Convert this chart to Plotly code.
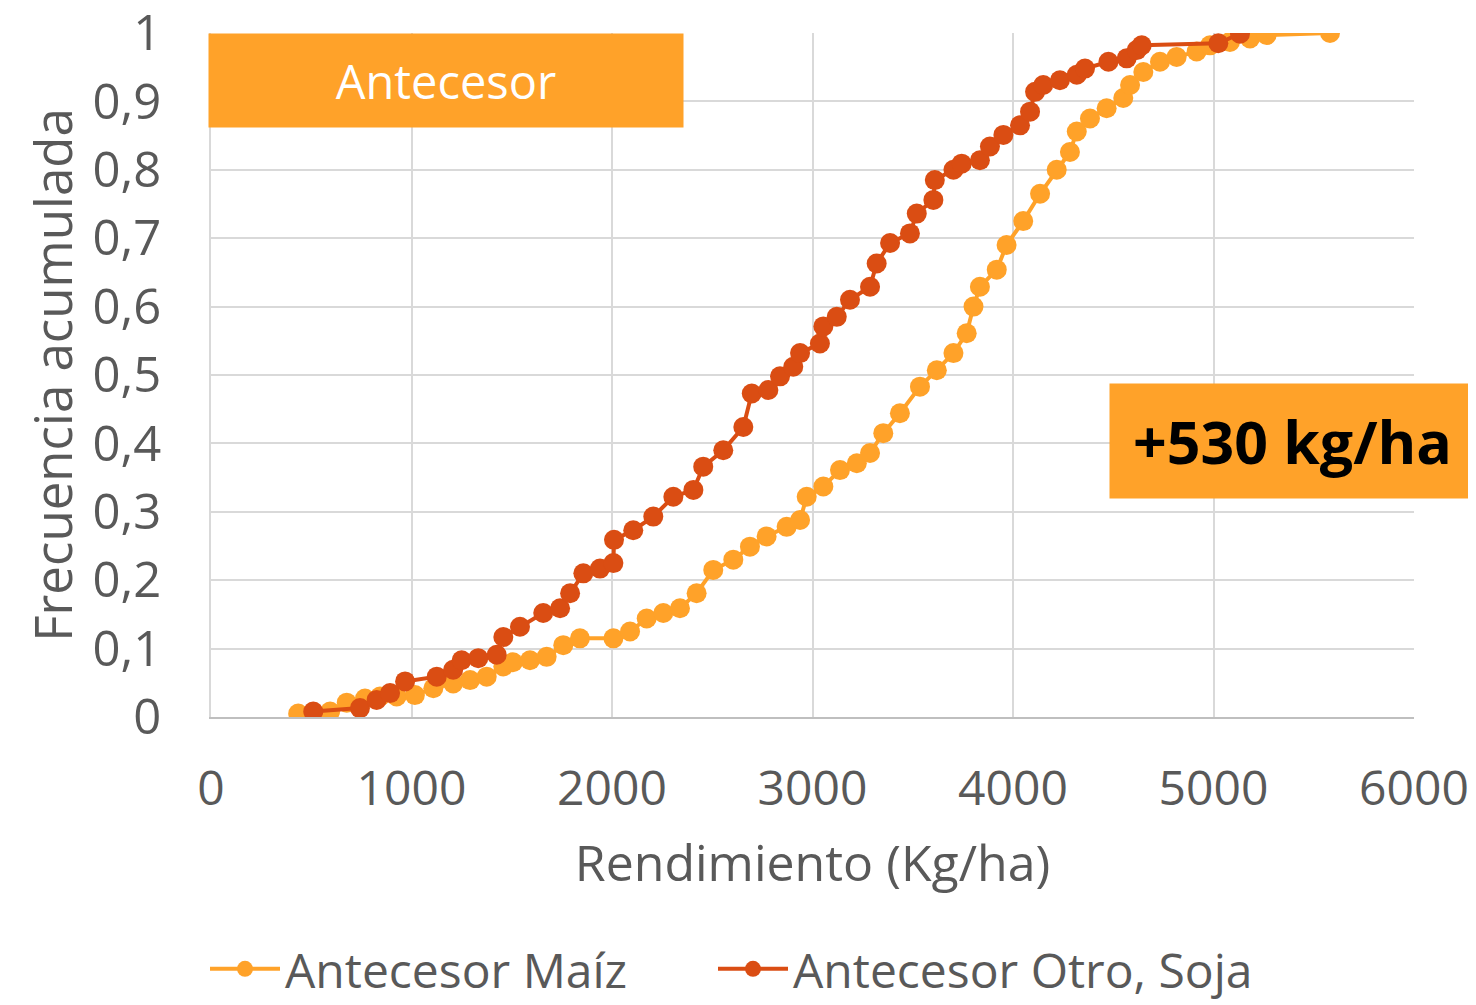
import plotly.graph_objects as go

# Antecesor Maíz (rendimiento kg/ha, frecuencia acumulada)
maiz_x = [435, 594, 677, 768, 843, 926, 1017, 1109, 1208, 1292, 1375, 1458, 1506, 1591, 1674, 1757,
          1840, 2007, 2090, 2173, 2256, 2339, 2422, 2505, 2605, 2688, 2771, 2871, 2938, 2971, 3054,
          3137, 3221, 3287, 3353, 3436, 3536, 3620, 3703, 3769, 3803, 3835, 3919, 3968, 4051, 4135,
          4218, 4284, 4318, 4384, 4467, 4550, 4584, 4650, 4733, 4816, 4916, 4983, 5082, 5182, 5265, 5581]
maiz_y = [0.005, 0.008, 0.021, 0.027, 0.030, 0.030, 0.032, 0.042, 0.049, 0.054, 0.059, 0.074, 0.080,
          0.083, 0.088, 0.105, 0.115, 0.115, 0.125, 0.144, 0.152, 0.159, 0.181, 0.215, 0.230, 0.249,
          0.264, 0.278, 0.288, 0.322, 0.337, 0.361, 0.371, 0.386, 0.415, 0.444, 0.483, 0.507, 0.532,
          0.561, 0.600, 0.629, 0.654, 0.690, 0.725, 0.765, 0.800, 0.826, 0.856, 0.875, 0.890, 0.905,
          0.924, 0.943, 0.958, 0.965, 0.973, 0.982, 0.987, 0.992, 0.997, 1.0]

# Antecesor Otro, Soja
otro_x = [510, 743, 826, 893, 968, 1126, 1208, 1250, 1333, 1425, 1458, 1541, 1657, 1741, 1791, 1857,
          1940, 2007, 2010, 2106, 2206, 2306, 2406, 2455, 2555, 2655, 2697, 2780, 2838, 2904, 2938,
          3037, 3054, 3121, 3187, 3287, 3320, 3387, 3486, 3520, 3603, 3610, 3703, 3744, 3835, 3885,
          3952, 4035, 4085, 4110, 4151, 4234, 4318, 4359, 4476, 4567, 4617, 4642, 5024, 5132]
otro_y = [0.008, 0.013, 0.025, 0.035, 0.052, 0.059, 0.069, 0.083, 0.086, 0.091, 0.117, 0.132, 0.152,
          0.159, 0.181, 0.210, 0.217, 0.225, 0.259, 0.273, 0.293, 0.322, 0.332, 0.366, 0.390, 0.424,
          0.473, 0.478, 0.498, 0.512, 0.532, 0.546, 0.571, 0.585, 0.610, 0.629, 0.663, 0.693, 0.707,
          0.736, 0.756, 0.785, 0.800, 0.809, 0.814, 0.834, 0.851, 0.865, 0.885, 0.914, 0.924, 0.931,
          0.939, 0.948, 0.958, 0.963, 0.975, 0.982, 0.985, 0.999]

x_ticks = [0, 1000, 2000, 3000, 4000, 5000, 6000]
y_ticks = [0, 0.1, 0.2, 0.3, 0.4, 0.5, 0.6, 0.7, 0.8, 0.9, 1]
y_labels = ["0", "0,1", "0,2", "0,3", "0,4", "0,5", "0,6", "0,7", "0,8", "0,9", "1"]

C_MAIZ = "#FFA229"
C_OTRO = "#DA4D13"
FONT = "Open Sans"
GRAY = "#595959"

W, H = 1468, 997
L, T, PW, PH = 203, 25, 1203, 684

fig = go.Figure()
fig.add_trace(go.Scatter(x=maiz_x, y=maiz_y, mode="lines+markers", name="Antecesor Maíz",
                         line=dict(color=C_MAIZ, width=4), marker=dict(color=C_MAIZ, size=20),
                         legend="legend"))
fig.add_trace(go.Scatter(x=otro_x, y=otro_y, mode="lines+markers", name="Antecesor Otro, Soja",
                         line=dict(color=C_OTRO, width=4), marker=dict(color=C_OTRO, size=20),
                         legend="legend2"))

leg_common = dict(orientation="h", xanchor="left", yref="container", y=0.036, yanchor="middle",
                  font=dict(size=48, color=GRAY), itemwidth=70, bgcolor="rgba(0,0,0,0)")

fig.update_layout(
    width=W, height=H,
    margin=dict(l=L, r=W - L - PW, t=T, b=H - T - PH, autoexpand=False),
    plot_bgcolor="white", paper_bgcolor="white",
    font=dict(family=FONT, color=GRAY, size=48),
    xaxis=dict(range=[0, 6000], tickvals=x_ticks, showgrid=True, gridcolor="#D9D9D9", gridwidth=2,
               zeroline=False, showline=True, linecolor="#BFBFBF", linewidth=2,
               tickfont=dict(size=48, color=GRAY), ticklabelstandoff=28, ticklabeloverflow="allow",
               title=dict(text="Rendimiento (Kg/ha)", font=dict(size=50, color=GRAY), standoff=28)),
    yaxis=dict(range=[0, 1], tickvals=y_ticks, ticktext=y_labels, showgrid=True, gridcolor="#D9D9D9",
               gridwidth=2, zeroline=False, showline=True, linecolor="#D9D9D9", linewidth=2,
               tickfont=dict(size=49, color=GRAY), ticklabelstandoff=38, ticklabeloverflow="allow",
               title=dict(text="Frecuencia acumulada", font=dict(size=51, color=GRAY), standoff=4)),
    legend=dict(x=(197 - L) / PW, **leg_common),
    legend2=dict(x=(705 - L) / PW, **leg_common),
    showlegend=True,
)

fig.add_annotation(xref="paper", yref="paper", x=(200 - L) / PW, y=1.0, xanchor="left", yanchor="top",
                   text="Antecesor", showarrow=False, font=dict(size=47, color="white", family=FONT),
                   bgcolor=C_MAIZ, width=458, height=77, borderpad=8, align="center")
fig.add_annotation(xref="paper", yref="paper", x=(W - L) / PW, y=(684 - (383 - 33)) / PH,
                   xanchor="right", yanchor="top",
                   text="<b>+530 kg/ha</b>", showarrow=False, font=dict(size=59, color="black", family=FONT),
                   bgcolor=C_MAIZ, width=349, height=98, borderpad=8, align="center")

fig.write_html("out.html")
